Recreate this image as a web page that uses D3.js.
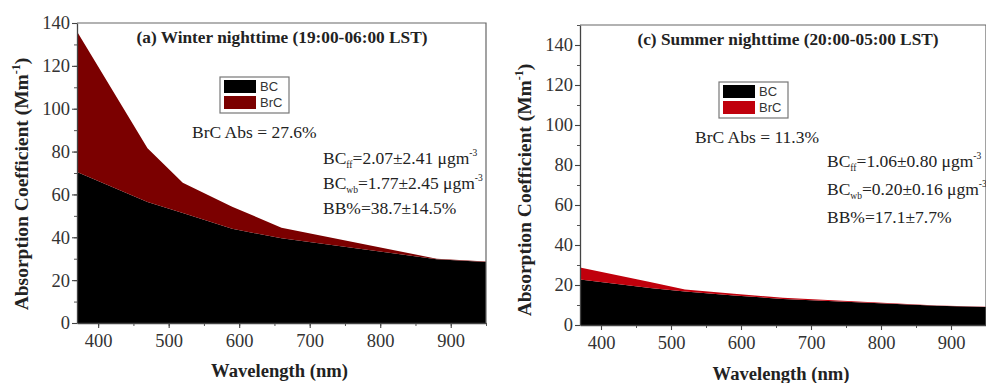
<!DOCTYPE html>
<html>
<head>
<meta charset="utf-8">
<script src="https://cdn.jsdelivr.net/npm/d3@7/dist/d3.min.js"></script>
<style>
  body { margin: 0; background: #fff; }
  svg { display: block; }
  text { font-family: "Liberation Serif", "Times New Roman", serif; }
</style>
</head>
<body>
<svg id="chart" width="986" height="383"></svg>
<script>
// wavelengths of the aethalometer channels (nm)
const wavelengths = [370, 470, 520, 590, 660, 880, 950];

// winter nighttime, Mm-1
const winterBC  = [70.5, 56.5, 51.3, 44.0, 39.5, 29.8, 28.5];
const winterBrC = [65.5, 25.0, 14.2, 10.3, 5.0, 0.2, 0.2];

// summer nighttime, Mm-1
const summerBC  = [22.8, 18.5, 16.7, 14.8, 13.0, 9.6, 9.0];
const summerBrC = [5.9, 3.0, 1.1, 0.8, 0.6, 0.1, 0.1];

const xTicks = [400, 500, 600, 700, 800, 900];
const yTicks = [0, 20, 40, 60, 80, 100, 120, 140];
const legendKeys = ["BC", "BrC"];

const SERIF = '"Liberation Serif", "Times New Roman", serif';
const svg = d3.select("#chart");

function drawPanel(cfg) {
  const g = svg.append("g");

  const x = d3.scaleLinear().domain([370, 950]).range([cfg.x0, cfg.x1]);
  const y = d3.scaleLinear().domain([0, cfg.yMax]).range([cfg.yBottom, cfg.yTop]);

  const rows = wavelengths.map((w, i) => ({ w: w, BC: cfg.bc[i], BrC: cfg.brc[i] }));
  const series = d3.stack().keys(legendKeys)(rows);
  const color = d3.scaleOrdinal().domain(legendKeys).range(["#000000", cfg.brcColor]);

  const area = d3.area()
    .x(d => x(d.data.w))
    .y0(d => y(d[0]))
    .y1(d => y(d[1]));

  g.selectAll("path.layer")
    .data(series)
    .enter().append("path")
    .attr("class", "layer")
    .attr("fill", d => color(d.key))
    .attr("d", area);

  // frame (top + right)
  g.append("path")
    .attr("d", `M${cfg.x0},${cfg.yTop}H${cfg.x1}V${cfg.yBottom}`)
    .attr("fill", "none")
    .attr("stroke", "#666")
    .attr("stroke-width", 1.2);

  // minor ticks
  g.append("g")
    .attr("transform", `translate(0,${cfg.yBottom})`)
    .call(d3.axisBottom(x).tickValues(d3.range(350, 951, 50).filter(v => v >= 370)).tickSize(3).tickFormat(""))
    .call(a => a.select(".domain").remove())
    .call(a => a.selectAll("line").attr("stroke", "#555"));
  g.append("g")
    .attr("transform", `translate(${cfg.x0},0)`)
    .call(d3.axisLeft(y).tickValues(d3.range(0, cfg.yMax + 1, 10)).tickSize(3).tickFormat(""))
    .call(a => a.select(".domain").remove())
    .call(a => a.selectAll("line").attr("stroke", "#555"));

  // major axes
  const xa = g.append("g")
    .attr("transform", `translate(0,${cfg.yBottom})`)
    .call(d3.axisBottom(x).tickValues(xTicks).tickSize(5).tickPadding(6).tickSizeOuter(0));
  const ya = g.append("g")
    .attr("transform", `translate(${cfg.x0},0)`)
    .call(d3.axisLeft(y).tickValues(yTicks).tickSize(5).tickPadding(2).tickSizeOuter(0));
  [xa, ya].forEach(a => {
    a.attr("font-family", null);
    a.select(".domain").attr("stroke", "#444").attr("stroke-width", 1.3);
    a.selectAll("line").attr("stroke", "#444").attr("stroke-width", 1.1);
    a.selectAll("text")
      .style("font-family", SERIF)
      .style("font-size", "18.5px")
      .attr("fill", "#333");
  });

  // title
  g.append("text")
    .attr("x", cfg.titleX)
    .attr("y", cfg.yTop + 20)
    .attr("text-anchor", "middle")
    .style("font-size", "17.3px")
    .style("font-weight", "bold")
    .attr("fill", "#222")
    .text(cfg.title);

  // axis titles
  g.append("text")
    .attr("x", (cfg.x0 + cfg.x1) / 2 - 2)
    .attr("y", cfg.xTitleY)
    .attr("text-anchor", "middle")
    .style("font-size", "18.6px")
    .style("font-weight", "bold")
    .attr("fill", "#222")
    .text("Wavelength (nm)");

  const yt = g.append("text")
    .attr("transform", `translate(${cfg.yTitleX},${cfg.yTitleY}) rotate(-90)`)
    .attr("text-anchor", "middle")
    .style("font-size", "19.5px")
    .style("font-weight", "bold")
    .attr("fill", "#222");
  yt.append("tspan").text("Absorption Coefficient (Mm");
  yt.append("tspan").attr("dy", -8).style("font-size", "12px").text("-1");
  yt.append("tspan").attr("dy", 8).text(")");

  // legend
  const lg = g.append("g").attr("transform", `translate(${cfg.legX},${cfg.legY})`);
  lg.append("rect")
    .attr("width", cfg.legW).attr("height", cfg.legH)
    .attr("fill", "#fff").attr("stroke", "#777").attr("stroke-width", 1.2);
  legendKeys.forEach((k, i) => {
    const rowH = (cfg.legH - 4) / 2;
    lg.append("rect")
      .attr("x", 4).attr("y", 3 + i * rowH)
      .attr("width", 32).attr("height", rowH - 3)
      .attr("fill", color(k));
    lg.append("text")
      .attr("x", 40).attr("y", 3 + i * rowH + rowH - 5)
      .style("font-family", "Liberation Sans, Arial, sans-serif")
      .style("font-size", "13px")
      .attr("fill", "#333")
      .text(k);
  });

  g.append("text")
    .attr("x", cfg.absX).attr("y", cfg.absY)
    .style("font-size", "17.5px")
    .attr("fill", "#222")
    .text(cfg.absText);

  // statistics block
  cfg.stats.forEach((s, i) => {
    const t = g.append("text")
      .attr("x", cfg.statX)
      .attr("y", cfg.statY + i * cfg.statStep)
      .style("font-size", "17.5px")
      .attr("fill", "#222");
    t.append("tspan").text(s.head);
    if (s.sub) {
      t.append("tspan").attr("dy", 4).style("font-size", "9.5px").text(s.sub);
      t.append("tspan").attr("dy", -4).text(s.body);
    } else {
      t.append("tspan").text(s.body);
    }
    if (s.sup) {
      t.append("tspan").attr("dy", -8).style("font-size", "9.5px").text(s.sup);
    }
  });
}

drawPanel({
  x0: 77, x1: 486, yTop: 23, yBottom: 323, yMax: 140,
  bc: winterBC, brc: winterBrC, brcColor: "#7b0000",
  title: "(a) Winter nighttime (19:00-06:00 LST)", titleX: 282,
  xTitleY: 377, yTitleX: 28, yTitleY: 184,
  legX: 220, legY: 77, legW: 69, legH: 36,
  absX: 192, absY: 138, absText: "BrC Abs = 27.6%",
  statX: 323, statY: 164, statStep: 25,
  stats: [
    { head: "BC", sub: "ff", body: "=2.07±2.41 μgm", sup: "-3" },
    { head: "BC", sub: "wb", body: "=1.77±2.45 μgm", sup: "-3" },
    { head: "BB%=38.7±14.5%", body: "" }
  ]
});

drawPanel({
  x0: 580, x1: 986, yTop: 25, yBottom: 325, yMax: 150,
  bc: summerBC, brc: summerBrC, brcColor: "#c0000c",
  title: "(c) Summer nighttime (20:00-05:00 LST)", titleX: 788,
  xTitleY: 380, yTitleX: 531, yTitleY: 190,
  legX: 719, legY: 82, legW: 69, legH: 36,
  absX: 695, absY: 143, absText: "BrC Abs = 11.3%",
  statX: 827, statY: 167, statStep: 28,
  stats: [
    { head: "BC", sub: "ff", body: "=1.06±0.80 μgm", sup: "-3" },
    { head: "BC", sub: "wb", body: "=0.20±0.16 μgm", sup: "-3" },
    { head: "BB%=17.1±7.7%", body: "" }
  ]
});
</script>
</body>
</html>
